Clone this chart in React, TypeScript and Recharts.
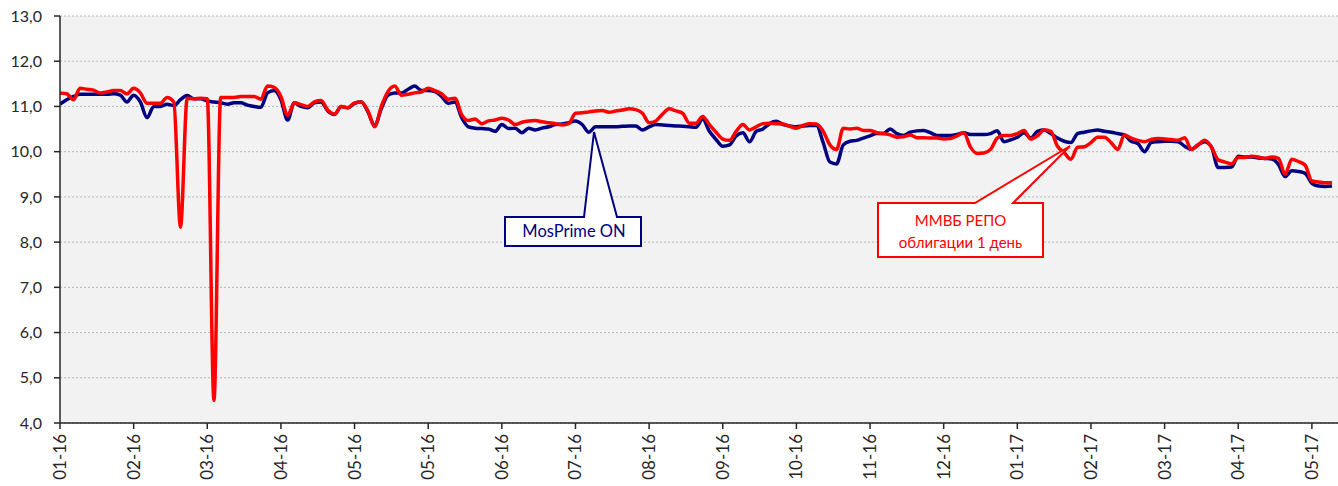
import React from "react";
import { CartesianGrid, Line, LineChart, XAxis, YAxis } from "recharts";

// daily values, Jan 2016 – May 2017 (one point ≈ two trading days)
const mosprime = [
  11.05, 11.15, 11.22, 11.27, 11.27, 11.27, 11.27, 11.27, 11.28, 11.25,
  11.1, 11.25, 11.1, 10.75, 11.0, 11.0, 11.05, 11.02, 11.15, 11.24,
  11.17, 11.17, 11.12, 11.1, 11.08, 11.05, 11.08, 11.08, 11.03, 11.0,
  10.98, 11.3, 11.35, 11.15, 10.7, 11.08, 11.0, 10.97, 11.08, 11.1,
  10.9, 10.82, 11.0, 10.97, 11.07, 11.1, 10.88, 10.58, 10.95, 11.25,
  11.3, 11.3, 11.38, 11.45, 11.35, 11.35, 11.33, 11.22, 11.07, 11.1,
  10.75, 10.55, 10.52, 10.51, 10.5, 10.45, 10.6, 10.51, 10.52, 10.42,
  10.52, 10.48, 10.52, 10.55, 10.6, 10.61, 10.64, 10.68, 10.6, 10.43,
  10.55, 10.55, 10.55, 10.55, 10.56, 10.57, 10.57, 10.48, 10.55, 10.6,
  10.59, 10.58, 10.57, 10.56, 10.55, 10.54, 10.72, 10.45, 10.27, 10.12,
  10.15, 10.35, 10.42, 10.22, 10.45, 10.5, 10.62, 10.67, 10.6, 10.57,
  10.55, 10.57, 10.58, 10.58, 10.2, 9.77, 9.73, 10.15, 10.23, 10.25,
  10.3, 10.35, 10.4, 10.4, 10.5, 10.4, 10.36, 10.43, 10.46, 10.47,
  10.42, 10.36, 10.36, 10.36, 10.38, 10.42, 10.38, 10.38, 10.38, 10.4,
  10.46, 10.22, 10.26, 10.32, 10.42, 10.3, 10.45, 10.48, 10.4, 10.3,
  10.23, 10.2, 10.4, 10.43, 10.46, 10.48, 10.45, 10.43, 10.4, 10.37,
  10.23, 10.18, 10.0, 10.2, 10.22, 10.23, 10.23, 10.22, 10.12, 10.05,
  10.15, 10.22, 10.1, 9.65, 9.65, 9.66, 9.9, 9.88, 9.88, 9.86,
  9.85, 9.84, 9.72, 9.45, 9.58, 9.56, 9.52, 9.3, 9.24, 9.23,
  9.24,
];

const repo = [
  11.3, 11.28, 11.15, 11.4, 11.38, 11.36, 11.3, 11.32, 11.35, 11.35,
  11.28, 11.4, 11.3, 11.07, 11.07, 11.07, 11.2, 11.1, 8.33, 11.18,
  11.17, 11.18, 11.17, 4.5, 11.2, 11.2, 11.2, 11.22, 11.22, 11.22,
  11.16, 11.45, 11.42, 11.22, 10.8, 11.08, 11.04, 11.0, 11.1, 11.13,
  10.92, 10.83, 11.0, 10.97, 11.08, 11.1, 10.9, 10.55, 11.0, 11.33,
  11.45, 11.25, 11.27, 11.3, 11.32, 11.4, 11.35, 11.28, 11.16, 11.18,
  10.82, 10.69, 10.72, 10.62, 10.68, 10.7, 10.74, 10.7, 10.6, 10.65,
  10.68, 10.69, 10.66, 10.64, 10.62, 10.59, 10.62, 10.85, 10.86, 10.88,
  10.9, 10.91, 10.87, 10.9, 10.92, 10.95, 10.93, 10.85, 10.64, 10.68,
  10.83, 10.95, 10.9, 10.85, 10.63, 10.63, 10.78, 10.6, 10.43, 10.28,
  10.25, 10.45, 10.6, 10.48, 10.55, 10.62, 10.63, 10.62, 10.61, 10.56,
  10.52, 10.58, 10.62, 10.61, 10.45, 10.15, 10.05, 10.52, 10.5, 10.52,
  10.47, 10.47, 10.42, 10.4, 10.37, 10.32, 10.33, 10.37, 10.31, 10.31,
  10.3, 10.3, 10.28, 10.29, 10.35, 10.42, 10.1, 9.96, 9.97, 10.05,
  10.3, 10.36, 10.36, 10.4, 10.47, 10.28, 10.35, 10.48, 10.45, 10.12,
  9.98, 9.83, 10.1, 10.11, 10.2, 10.32, 10.32, 10.2, 10.05, 10.37,
  10.3, 10.25, 10.22, 10.27, 10.29, 10.28, 10.27, 10.25, 10.31, 10.05,
  10.15, 10.25, 10.1, 9.82, 9.77, 9.73, 9.87, 9.87, 9.9, 9.88,
  9.85, 9.88, 9.85, 9.5, 9.83, 9.78, 9.7, 9.35, 9.33, 9.31,
  9.31,
];

const tickLabels = [
  "01-16", "02-16", "03-16", "04-16", "05-16", "05-16", "06-16", "07-16", "08-16",
  "09-16", "10-16", "11-16", "12-16", "01-17", "02-17", "03-17", "04-17", "05-17",
];
const LABEL_STEP = 11;
const tickIndex = tickLabels.map((_, k) => k * LABEL_STEP);
const yTicks = [4, 5, 6, 7, 8, 9, 10, 11, 12, 13];

const data = mosprime.map((v, i) => ({ i, mosprime: v, repo: repo[i] }));

const FONT = "Lato, 'Open Sans', sans-serif";
const AXIS = "#262626";

function XTick({ x, y, payload }: any) {
  const label = tickLabels[Math.round(payload.value / LABEL_STEP)] ?? "";
  return (
    <text
      transform={`translate(${x},${y + 3}) rotate(-90)`}
      textAnchor="end"
      dy="0.35em"
      fontSize={17}
      fontFamily={FONT}
      fill={AXIS}
    >
      {label}
    </text>
  );
}

export default function App() {
  return (
    <div style={{ position: "absolute", left: 0, top: 0, width: 1338, height: 486, background: "#fff" }}>
      <LineChart width={1338} height={486} data={data} margin={{ top: 16, right: 0, left: 0, bottom: 0 }}>
        <CartesianGrid vertical={false} fill="#f2f2f2" stroke="#b5b5b5" strokeDasharray="2 2" />
        <XAxis
          type="number"
          dataKey="i"
          domain={[0, 190.9]}
          allowDataOverflow
          ticks={tickIndex}
          interval={0}
          height={63}
          tick={<XTick />}
          tickSize={6}
          axisLine={{ stroke: AXIS, strokeWidth: 1.5 }}
          tickLine={{ stroke: AXIS, strokeWidth: 1.5 }}
        />
        <YAxis
          width={60}
          domain={[4, 13]}
          ticks={yTicks}
          interval={0}
          tickSize={6}
          tickMargin={12}
          tickFormatter={(v: number) => v.toFixed(1).replace(".", ",")}
          tick={{ fontSize: 16, fontFamily: FONT, fill: AXIS }}
          axisLine={{ stroke: AXIS, strokeWidth: 1.5 }}
          tickLine={{ stroke: AXIS, strokeWidth: 1.5 }}
        />
        <Line
          dataKey="mosprime"
          type="monotone"
          stroke="#000080"
          strokeWidth={3.5}
          dot={false}
          isAnimationActive={false}
        />
        <Line
          dataKey="repo"
          type="monotone"
          stroke="#ff0000"
          strokeWidth={3.5}
          dot={false}
          isAnimationActive={false}
        />
      </LineChart>

      {/* callouts */}
      <svg width={1338} height={486} style={{ position: "absolute", left: 0, top: 0, pointerEvents: "none" }}>
        <path
          d="M505,217 L584,217 L594,132 L617,217 L641,217 L641,246 L505,246 Z"
          fill="#fff"
          stroke="#000080"
          strokeWidth={2}
          strokeLinejoin="miter"
        />
        <text x={574} y={237} textAnchor="middle" fontSize={16.5} fontFamily={FONT} fill="#000080">
          MosPrime ON
        </text>
        <path
          d="M878,203 L975,203 L1070,146 L1013,203 L1043,203 L1043,257 L878,257 Z"
          fill="#fff"
          stroke="#ff0000"
          strokeWidth={2}
          strokeLinejoin="miter"
        />
        <text x={960.5} y={226} textAnchor="middle" fontSize={15} fontFamily={FONT} fill="#ff0000">
          ММВБ РЕПО
        </text>
        <text x={960.5} y={248} textAnchor="middle" fontSize={15} fontFamily={FONT} fill="#ff0000">
          облигации 1 день
        </text>
      </svg>
    </div>
  );
}
